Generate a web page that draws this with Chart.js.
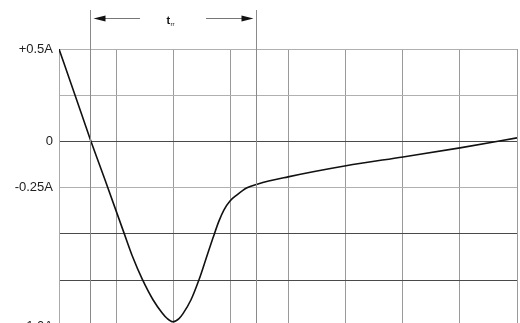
<!DOCTYPE html>
<html>
<head>
<meta charset="utf-8">
<script src="https://cdn.jsdelivr.net/npm/chart.js@4"></script>
<style>
  html, body { margin: 0; padding: 0; background: #fff; overflow: hidden; }
  #wrap { width: 520px; height: 340px; position: relative; }
</style>
</head>
<body>
<div id="wrap"><canvas id="c" width="520" height="340"></canvas></div>
<script>
// Time axis in grid divisions, current in amperes
const timeDiv = [0, 0.279, 0.559, 0.803, 1.135, 1.293, 1.450, 1.642, 1.799, 1.886, 1.991, 2.096, 2.166, 2.306, 2.445, 2.568, 2.690, 2.795, 2.882, 2.987, 3.109, 3.284, 3.476, 4.0, 5.013, 6.009, 7.004, 8.0];
const currentA = [0.5, 0.251, 0.0, -0.208, -0.495, -0.630, -0.743, -0.857, -0.927, -0.957, -0.976, -0.959, -0.932, -0.857, -0.749, -0.635, -0.522, -0.430, -0.370, -0.322, -0.289, -0.251, -0.230, -0.192, -0.132, -0.084, -0.035, 0.019];
const tickValues = [0.5, 0, -0.25, -1.0];
const tickLabels = ['+0.5A', '0', '-0.25A', '-1.0A'];
const darkGridValues = [0, -0.5, -0.75];
const trrMarks = [0.54, 3.44];
const trrLabel = ['t', 'rr'];

const points = timeDiv.map((t, i) => ({ x: t, y: currentA[i] }));

const trrPlugin = {
  id: 'trr',
  afterDraw(chart) {
    const ctx = chart.ctx;
    const xs = chart.scales.x;
    const bottom = chart.chartArea.bottom;
    const x1 = Math.round(xs.getPixelForValue(trrMarks[0])) + 0.5;
    const x2 = Math.round(xs.getPixelForValue(trrMarks[1])) + 0.5;
    ctx.save();
    ctx.strokeStyle = '#8a8a8a';
    ctx.lineWidth = 1;
    ctx.beginPath();
    ctx.moveTo(x1, 10); ctx.lineTo(x1, bottom);
    ctx.moveTo(x2, 10); ctx.lineTo(x2, bottom);
    ctx.stroke();
    const ay = 18.5;
    ctx.strokeStyle = '#777';
    ctx.beginPath();
    ctx.moveTo(x1 + 14, ay); ctx.lineTo(140, ay);
    ctx.moveTo(206, ay); ctx.lineTo(x2 - 14, ay);
    ctx.stroke();
    ctx.fillStyle = '#111';
    ctx.beginPath();
    ctx.moveTo(x1 + 3, ay); ctx.lineTo(x1 + 15, ay - 3); ctx.lineTo(x1 + 15, ay + 3); ctx.closePath();
    ctx.fill();
    ctx.beginPath();
    ctx.moveTo(x2 - 3, ay); ctx.lineTo(x2 - 15, ay - 3); ctx.lineTo(x2 - 15, ay + 3); ctx.closePath();
    ctx.fill();
    const mid = (x1 + x2) / 2;
    ctx.fillStyle = '#111';
    ctx.textBaseline = 'alphabetic';
    ctx.textAlign = 'left';
    ctx.font = 'bold 11px "Liberation Sans", Arial, sans-serif';
    ctx.fillText(trrLabel[0], mid - 7, 24);
    ctx.font = '6px "Liberation Sans", Arial, sans-serif';
    ctx.fillText(trrLabel[1], mid - 3, 26);
    ctx.restore();
  }
};

new Chart(document.getElementById('c'), {
  type: 'line',
  data: {
    datasets: [{
      data: points,
      borderColor: '#111',
      borderWidth: 1.6,
      pointRadius: 0,
      fill: false,
      cubicInterpolationMode: 'monotone'
    }]
  },
  options: {
    responsive: false,
    animation: false,
    events: [],
    layout: { padding: { top: 49, right: 3, bottom: 13.5, left: 0 } },
    plugins: { legend: { display: false }, tooltip: { enabled: false } },
    scales: {
      x: {
        type: 'linear',
        min: 0,
        max: 8,
        ticks: { display: false, stepSize: 1 },
        grid: { color: '#9a9a9a', lineWidth: 1, drawTicks: false },
        border: { display: false },
        afterFit(scale) { scale.height = 0; }
      },
      y: {
        min: -1.0,
        max: 0.5,
        ticks: {
          stepSize: 0.25,
          autoSkip: false,
          padding: 6,
          color: '#222',
          font: { family: '"Liberation Sans", Arial, sans-serif', size: 13 },
          callback(v) {
            const i = tickValues.findIndex(t => Math.abs(t - v) < 1e-6);
            return i >= 0 ? tickLabels[i] : '';
          }
        },
        grid: {
          drawTicks: false,
          lineWidth: 1,
          color(ctx) {
            const v = ctx.tick ? ctx.tick.value : null;
            return darkGridValues.some(d => v !== null && Math.abs(d - v) < 1e-6) ? '#4a4a4a' : '#b0b0b0';
          }
        },
        border: { display: true, color: '#aaaaaa' },
        afterFit(scale) { scale.width = 59; }
      }
    }
  },
  plugins: [trrPlugin]
});
</script>
</body>
</html>
